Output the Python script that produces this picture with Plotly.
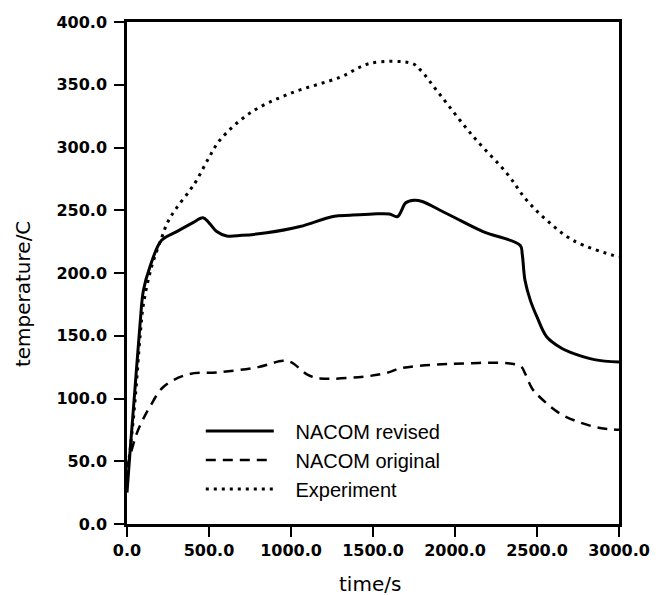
import plotly.graph_objects as go

# NACOM revised (solid)
rev_t = [0, 20, 50, 80, 100, 140, 211, 303, 400, 463, 500, 547, 608, 700, 852, 1055, 1256, 1360,
         1500, 1600, 1650, 1700, 1750, 1800, 1909, 2000, 2171, 2398, 2410, 2427, 2460, 2500, 2560,
         2650, 2700, 2850, 3000]
rev_T = [25, 60, 110, 160, 186, 205, 226, 233, 240, 244, 240, 233, 229.5, 230, 232, 237, 245, 246,
         247, 247, 245, 256, 258, 257, 250, 244, 233, 222, 215, 194, 178, 165, 149,
         140, 137, 131, 129]

# NACOM original (dashed)
orig_t = [0, 20, 59, 100, 140, 220, 364, 567, 800, 950, 1000, 1100, 1177, 1482, 1600, 1665, 1970,
          2396, 2427, 2470, 2518, 2640, 2760, 2884, 3000]
orig_T = [45, 55, 72, 84, 93.5, 109, 119, 121, 125, 130, 129, 119, 116, 118, 121, 124, 127.5,
          126, 120, 108, 101, 88, 81, 76.5, 75]

# Experiment (dotted)
exp_t = [0, 20, 50, 80, 100, 150, 211, 250, 303, 384, 425, 500, 567, 750, 994, 1299, 1482, 1738, 1787,
         1909, 2112, 2315, 2437, 2560, 2720, 2965, 3000]
exp_T = [40, 60, 100, 150, 175, 205, 228, 241, 252, 266, 274, 292, 306, 327.5, 343, 356, 367, 367, 362,
         342, 308.6, 279.6, 258, 242, 226, 214, 213]

x_ticks = [0, 500, 1000, 1500, 2000, 2500, 3000]
y_ticks = [0, 50, 100, 150, 200, 250, 300, 350, 400]

pad = "\u00a0\u00a0\u00a0"
fig = go.Figure()
fig.add_trace(go.Scatter(x=rev_t, y=rev_T, mode="lines", name=pad + "NACOM revised",
                         line=dict(color="black", width=3, dash="solid"), line_shape="spline"))
fig.add_trace(go.Scatter(x=orig_t, y=orig_T, mode="lines", name=pad + "NACOM original",
                         line=dict(color="black", width=2.5, dash="10px,7px"), line_shape="spline"))
fig.add_trace(go.Scatter(x=exp_t, y=exp_T, mode="lines", name=pad + "Experiment",
                         line=dict(color="black", width=3, dash="3px,5px"), line_shape="spline"))

tickfont = dict(family="DejaVu Sans", size=16, color="black", weight="bold")
titlefont = dict(family="DejaVu Sans", size=20, color="black")
fig.update_layout(
    width=653, height=587,
    margin=dict(l=119, r=42, t=14, b=71, autoexpand=False),
    paper_bgcolor="white", plot_bgcolor="white",
    showlegend=True,
    legend=dict(x=0.150, y=0.224, xanchor="left", yanchor="top",
                font=dict(family="Liberation Sans", size=20, color="black"),
                bgcolor="rgba(0,0,0,0)", itemwidth=68, tracegroupgap=0,
                traceorder="grouped"),
    xaxis=dict(range=[0, 3000], tickvals=x_ticks,
               ticktext=[f"{v:.1f}" for v in x_ticks],
               showline=True, linecolor="black", linewidth=2.5, mirror=True,
               ticks="outside", ticklen=10, tickwidth=2, tickcolor="black",
               showgrid=False, zeroline=False, tickfont=tickfont, automargin=False),
    yaxis=dict(range=[0, 400], tickvals=y_ticks,
               ticktext=[f"{v:.1f}" for v in y_ticks],
               showline=True, linecolor="black", linewidth=2.5, mirror=True,
               ticks="outside", ticklen=10, tickwidth=2, tickcolor="black",
               ticklabelstandoff=4,
               showgrid=False, zeroline=False, tickfont=tickfont, automargin=False),
    annotations=[
        dict(text="time/s", xref="paper", yref="paper", x=0.4939, y=-0.1195,
             xanchor="center", yanchor="middle", showarrow=False, font=titlefont),
        dict(text="temperature/C", xref="paper", yref="paper", x=0, y=0.458,
             xshift=-104, xanchor="center", yanchor="middle", textangle=-90,
             showarrow=False, font=titlefont),
    ],
)
for i, tr in enumerate(fig.data):
    tr.legendgroup = str(i)

fig.write_html("out.html")
